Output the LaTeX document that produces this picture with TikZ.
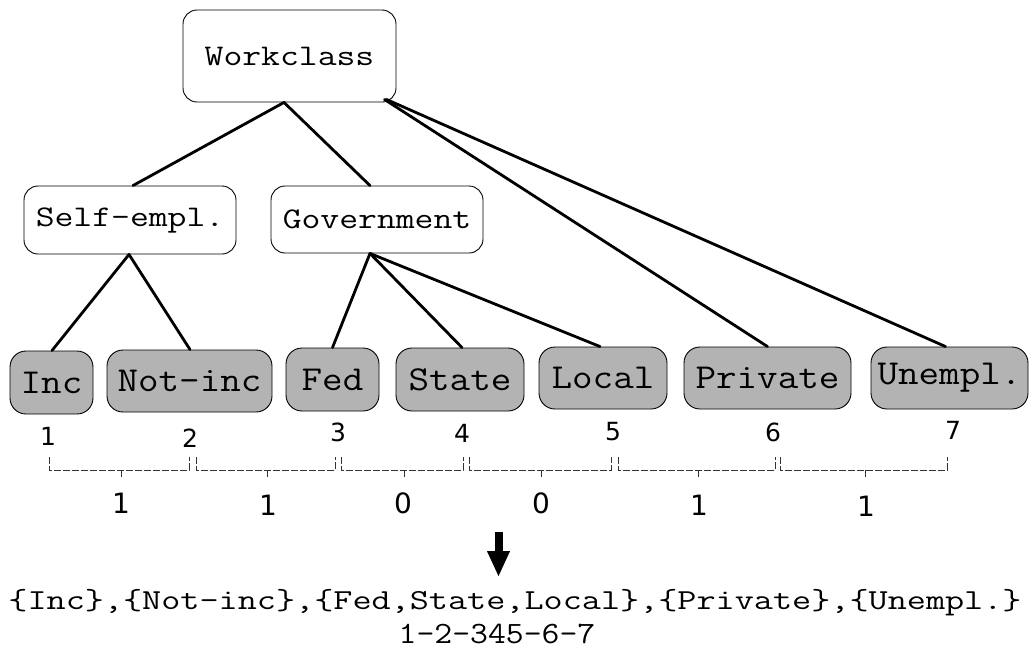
\documentclass[tikz,border=0pt]{standalone}
\usepackage{fontspec}
\usetikzlibrary{arrows.meta,calc}
\newfontfamily\dvs{DejaVu Sans}
\definecolor{leafgray}{HTML}{B3B3B3}
\newcommand{\hs}[2]{\scalebox{#1}[1]{#2}}
\tikzset{
  inner/.style={draw=black,line width=0.9pt,rounded corners=14pt,fill=white,inner sep=0pt,
    font=\ttfamily\fontsize{30}{34}\selectfont},
  leaf/.style={draw=black,line width=0.9pt,rounded corners=16pt,fill=leafgray,inner sep=0pt,
    minimum height=62pt,font=\ttfamily\fontsize{35}{40}\selectfont},
  edge/.style={line width=2.8pt,line cap=round},
  num/.style={font=\dvs\fontsize{25}{30}\selectfont,inner sep=0pt},
  blab/.style={font=\dvs\fontsize{28}{32}\selectfont,inner sep=0pt},
  brk/.style={draw=black!80,line width=1pt,dash pattern=on 7pt off 2pt},
  res/.style={inner sep=0pt,font=\ttfamily\fontsize{29}{34}\selectfont}
}
\newcommand{\bracketdraw}[3]{%
  \draw[brk] (#1,457) -- (#1,470) -- (#2,470) -- (#2,457);
  \draw[brk] (#3,470) -- (#3,477);}
\begin{document}
\begin{tikzpicture}[x=1pt,y=-1pt]
\useasboundingbox[fill=white] (0,0) rectangle (1030,656);
% internal nodes
\node[inner,minimum width=213pt,minimum height=92pt] (wc) at (289.5,56) {\hs{1.22}{Workclass}};
\node[inner,minimum width=212pt,minimum height=68pt] (se) at (130,220) {\hs{1.22}{Self-empl.}};
\node[inner,minimum width=212pt,minimum height=67pt] (gov) at (377,219.5) {\hs{1.22}{Government}};
% leaves
\node[leaf,minimum width=83pt,minimum height=63pt] (inc) at (51.5,382.5) {\hs{1.14}{Inc}};
\node[leaf,minimum width=165pt] (ni) at (189.5,381) {\hs{1.14}{Not-inc}};
\node[leaf,minimum width=93pt,minimum height=63pt] (fed) at (332.5,379.5) {\hs{1.14}{Fed}};
\node[leaf,minimum width=128pt,minimum height=63pt] (st) at (460,379.5) {\hs{1.14}{State}};
\node[leaf,minimum width=128pt] (lo) at (603,378) {\hs{1.14}{Local}};
\node[leaf,minimum width=167pt] (pr) at (767.5,378) {\hs{1.14}{Private}};
\node[leaf,minimum width=157pt] (un) at (949.5,378) {\hs{1.14}{Unempl.}};
% edges
\draw[edge] ($(wc.south)+(-5.5,0)$) -- ($(se.north)+(3,0)$);
\draw[edge] ($(wc.south)+(-5.5,0)$) -- ($(gov.north)+(-7,0)$);
\draw[edge] ($(wc.south east)+(-12,-3)$) -- (pr.north);
\draw[edge] ($(wc.south east)+(-10,-3)$) -- ($(un.north)+(-4,0)$);
\draw[edge] ($(se.south)+(-1,0)$) -- ($(inc.north)+(0.5,0)$);
\draw[edge] ($(se.south)+(-1,0)$) -- ($(ni.north)+(0.5,0)$);
\draw[edge] ($(gov.south)+(-7,0)$) -- (fed.north);
\draw[edge] ($(gov.south)+(-7,0)$) -- ($(st.north)+(2,0)$);
\draw[edge] ($(gov.south)+(-7,0)$) -- ($(lo.north)+(-3,0)$);
% position numbers
\node[num] (n1) at (48,436) {1};
\node[num] (n2) at (190,438) {2};
\node[num] (n3) at (338,432) {3};
\node[num] (n4) at (462,433) {4};
\node[num] (n5) at (613,432) {5};
\node[num] (n6) at (773,432) {6};
\node[num] (n7) at (953,430) {7};
% brackets
\bracketdraw{49}{189}{121}
\bracketdraw{196}{335}{267}
\bracketdraw{341}{463}{404}
\bracketdraw{469}{611}{541}
\bracketdraw{618}{775}{698}
\bracketdraw{780}{947}{865}
\node[blab] (b1) at (121,503) {1};
\node[blab] (b2) at (268,505) {1};
\node[blab] (b3) at (403,503) {0};
\node[blab] (b4) at (541,503) {0};
\node[blab] (b5) at (699,505) {1};
\node[blab] (b6) at (866,506) {1};
% result
\node[res] (txt) at (515,603) {\hs{1.28}{\{Inc\},\{Not-inc\},\{Fed,State,Local\},\{Private\},\{Unempl.\}}};
\node[res,font=\ttfamily\fontsize{31}{36}\selectfont] (code) at (497,634) {\hs{1.12}{1-2-345-6-7}};
\coordinate (atop) at (498.5,532);
\draw[line width=8pt,-{Triangle[width=21pt,length=26pt]}] (atop) -- (498.5,577);
\end{tikzpicture}
\end{document}
